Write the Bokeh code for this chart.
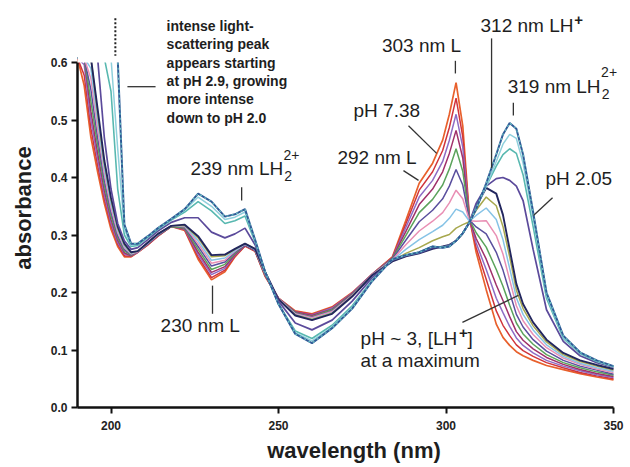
import numpy as np
from bokeh.plotting import figure
from bokeh.models import Range1d, BoxAnnotation, Label, FixedTicker, PrintfTickFormatter
from bokeh.embed import file_html
from bokeh.resources import INLINE

# wavelength grid (nm)
wavelength = [190, 192, 194, 196, 198, 200, 202, 204, 206, 208,
              211, 214, 218, 222, 226, 230, 234, 237, 240, 243,
              246, 250, 255, 260, 266, 272, 278, 284, 288, 292,
              296, 299, 301, 303, 305, 307, 309, 312, 315, 317,
              319, 321, 323, 326, 330, 335, 340, 345, 350]

# spectra, from pH 7.38 (L) down to pH 2.05 (LH2 2+)
abs_01 = [0.66, 0.56, 0.47, 0.41, 0.355, 0.31, 0.28, 0.262, 0.262, 0.27,
          0.283, 0.298, 0.315, 0.308, 0.258, 0.222, 0.236, 0.262, 0.281, 0.272,
          0.228, 0.19, 0.168, 0.163, 0.175, 0.2, 0.232, 0.262, 0.325, 0.39,
          0.425, 0.465, 0.51, 0.565, 0.49, 0.33, 0.27, 0.205, 0.145, 0.122,
          0.108, 0.097, 0.09, 0.082, 0.073, 0.066, 0.059, 0.053, 0.048]
abs_02 = [0.68, 0.578, 0.485, 0.421, 0.363, 0.316, 0.284, 0.264, 0.263, 0.27,
          0.283, 0.298, 0.315, 0.309, 0.262, 0.226, 0.239, 0.263, 0.281, 0.272,
          0.229, 0.19, 0.167, 0.162, 0.174, 0.199, 0.232, 0.261, 0.319, 0.378,
          0.41, 0.447, 0.487, 0.538, 0.471, 0.329, 0.278, 0.223, 0.168, 0.143,
          0.125, 0.109, 0.099, 0.089, 0.078, 0.069, 0.061, 0.055, 0.05]
abs_03 = [0.70, 0.596, 0.50, 0.432, 0.37, 0.321, 0.287, 0.267, 0.264, 0.27,
          0.284, 0.299, 0.315, 0.31, 0.266, 0.231, 0.242, 0.265, 0.282, 0.273,
          0.23, 0.19, 0.166, 0.161, 0.173, 0.199, 0.232, 0.26, 0.313, 0.366,
          0.395, 0.428, 0.465, 0.51, 0.453, 0.328, 0.286, 0.24, 0.19, 0.165,
          0.141, 0.121, 0.108, 0.095, 0.082, 0.072, 0.064, 0.057, 0.052]
abs_04 = [0.72, 0.614, 0.515, 0.443, 0.378, 0.327, 0.291, 0.269, 0.264, 0.271,
          0.284, 0.299, 0.315, 0.311, 0.27, 0.235, 0.245, 0.266, 0.282, 0.273,
          0.23, 0.189, 0.166, 0.16, 0.171, 0.198, 0.231, 0.26, 0.306, 0.353,
          0.38, 0.41, 0.442, 0.482, 0.434, 0.327, 0.294, 0.258, 0.213, 0.186,
          0.158, 0.132, 0.117, 0.102, 0.087, 0.075, 0.066, 0.059, 0.054]
abs_05 = [0.744, 0.636, 0.533, 0.456, 0.387, 0.333, 0.295, 0.272, 0.265, 0.271,
          0.285, 0.3, 0.315, 0.312, 0.275, 0.24, 0.249, 0.268, 0.283, 0.274,
          0.231, 0.189, 0.165, 0.158, 0.17, 0.197, 0.231, 0.259, 0.299, 0.339,
          0.362, 0.387, 0.415, 0.45, 0.411, 0.327, 0.304, 0.279, 0.24, 0.211,
          0.178, 0.147, 0.128, 0.11, 0.092, 0.078, 0.069, 0.062, 0.056]
abs_06 = [0.77, 0.659, 0.553, 0.47, 0.396, 0.34, 0.299, 0.275, 0.266, 0.271,
          0.285, 0.3, 0.316, 0.314, 0.28, 0.246, 0.253, 0.27, 0.283, 0.274,
          0.232, 0.189, 0.164, 0.157, 0.168, 0.196, 0.231, 0.258, 0.291, 0.323,
          0.343, 0.363, 0.385, 0.414, 0.387, 0.326, 0.314, 0.302, 0.27, 0.239,
          0.2, 0.162, 0.14, 0.118, 0.098, 0.082, 0.072, 0.065, 0.058]
abs_07 = [0.796, 0.682, 0.572, 0.485, 0.406, 0.347, 0.304, 0.278, 0.267, 0.271,
          0.286, 0.301, 0.316, 0.315, 0.285, 0.251, 0.256, 0.272, 0.284, 0.275,
          0.233, 0.189, 0.163, 0.156, 0.167, 0.195, 0.231, 0.257, 0.283, 0.307,
          0.324, 0.339, 0.356, 0.378, 0.363, 0.325, 0.324, 0.325, 0.299, 0.267,
          0.222, 0.177, 0.151, 0.127, 0.104, 0.086, 0.075, 0.067, 0.061]
abs_08 = [0.82, 0.704, 0.59, 0.498, 0.415, 0.354, 0.308, 0.28, 0.268, 0.272,
          0.286, 0.301, 0.316, 0.316, 0.29, 0.256, 0.26, 0.273, 0.284, 0.275,
          0.234, 0.188, 0.162, 0.154, 0.165, 0.194, 0.23, 0.256, 0.275, 0.292,
          0.306, 0.317, 0.329, 0.345, 0.34, 0.324, 0.334, 0.347, 0.327, 0.292,
          0.242, 0.191, 0.162, 0.135, 0.109, 0.089, 0.077, 0.069, 0.063]
abs_09 = [0.844, 0.726, 0.608, 0.511, 0.424, 0.361, 0.312, 0.283, 0.269, 0.272,
          0.287, 0.302, 0.316, 0.317, 0.295, 0.262, 0.264, 0.275, 0.285, 0.276,
          0.235, 0.188, 0.161, 0.153, 0.164, 0.194, 0.23, 0.255, 0.268, 0.278,
          0.29, 0.297, 0.301, 0.312, 0.318, 0.323, 0.343, 0.366, 0.351, 0.315,
          0.262, 0.204, 0.172, 0.142, 0.114, 0.092, 0.08, 0.072, 0.065]
abs_10 = [0.86, 0.74, 0.62, 0.52, 0.43, 0.365, 0.315, 0.285, 0.27, 0.272,
          0.287, 0.302, 0.316, 0.318, 0.298, 0.265, 0.266, 0.276, 0.285, 0.276,
          0.236, 0.188, 0.16, 0.152, 0.163, 0.193, 0.23, 0.254, 0.263, 0.268,
          0.276, 0.28, 0.283, 0.29, 0.303, 0.322, 0.35, 0.382, 0.372, 0.335,
          0.275, 0.215, 0.18, 0.148, 0.118, 0.095, 0.082, 0.074, 0.067]
abs_11 = [0.95, 0.85, 0.74, 0.61, 0.47, 0.38, 0.32, 0.29, 0.275, 0.278,
          0.292, 0.307, 0.322, 0.33, 0.33, 0.305, 0.295, 0.302, 0.312, 0.283,
          0.236, 0.185, 0.147, 0.135, 0.152, 0.185, 0.226, 0.256, 0.264, 0.269,
          0.278, 0.279, 0.282, 0.29, 0.303, 0.322, 0.355, 0.385, 0.398, 0.40,
          0.395, 0.385, 0.36, 0.275, 0.17, 0.115, 0.09, 0.078, 0.07]
abs_12 = [1.1, 1.0, 0.9, 0.8, 0.68, 0.55, 0.38, 0.3, 0.28, 0.282,
          0.296, 0.31, 0.326, 0.34, 0.358, 0.342, 0.32, 0.325, 0.333, 0.288,
          0.236, 0.18, 0.133, 0.12, 0.143, 0.177, 0.222, 0.257, 0.265, 0.27,
          0.28, 0.279, 0.281, 0.29, 0.303, 0.322, 0.348, 0.385, 0.42, 0.44,
          0.45, 0.442, 0.405, 0.315, 0.19, 0.12, 0.094, 0.08, 0.071]
abs_13 = [1.2, 1.1, 1.0, 0.9, 0.8, 0.68, 0.45, 0.31, 0.282, 0.284,
          0.297, 0.311, 0.327, 0.343, 0.366, 0.35, 0.327, 0.331, 0.34, 0.29,
          0.236, 0.179, 0.13, 0.116, 0.14, 0.174, 0.221, 0.258, 0.265, 0.27,
          0.28, 0.278, 0.28, 0.29, 0.303, 0.322, 0.346, 0.385, 0.428, 0.458,
          0.475, 0.468, 0.425, 0.33, 0.195, 0.122, 0.095, 0.081, 0.071]
abs_14 = [1.3, 1.2, 1.1, 1.0, 0.92, 0.8, 0.62, 0.318, 0.285, 0.285,
          0.298, 0.312, 0.328, 0.345, 0.372, 0.358, 0.332, 0.336, 0.345, 0.292,
          0.236, 0.18, 0.128, 0.112, 0.138, 0.172, 0.22, 0.258, 0.265, 0.27,
          0.28, 0.278, 0.28, 0.29, 0.303, 0.322, 0.345, 0.39, 0.44, 0.475,
          0.495, 0.485, 0.44, 0.34, 0.2, 0.125, 0.096, 0.082, 0.072]

spectra = [abs_01, abs_02, abs_03, abs_04, abs_05, abs_06, abs_07,
           abs_08, abs_09, abs_10, abs_11, abs_12, abs_13, abs_14]
colors = ["#e8602c", "#d0343c", "#8e6cc4", "#a0306a", "#5ba35b", "#5a4f9e",
          "#e98fb4", "#86c3e6", "#a7a84e", "#22265e", "#5b4a9b", "#58b8b0",
          "#8fd0dc", "#2e5a96"]
widths = [1.7, 1.5, 1.5, 1.5, 1.5, 1.5, 1.5, 1.5, 1.5, 1.9, 1.7, 1.6, 1.5, 2.0]

y_ticks = [0.0, 0.1, 0.2, 0.3, 0.4, 0.5, 0.6]
x_ticks = [200, 250, 300, 350]
y_axis_top = 0.6

FONT = "Liberation Sans"
TXT = "#1e1e1e"

p = figure(width=630, height=467, x_range=Range1d(190, 355.07), y_range=Range1d(0, 0.694),
           output_backend="svg", toolbar_location=None,
           min_border_left=77, min_border_right=0, min_border_top=8, min_border_bottom=60)
p.outline_line_color = None
p.xgrid.grid_line_color = None
p.ygrid.grid_line_color = None

# curves are cut at the top of the axis, as in the original
for s, c, w in zip(spectra, colors, widths):
    p.line(wavelength, np.minimum(s, y_axis_top + 0.008), line_color=c, line_width=w)
p.line(wavelength, np.minimum(abs_14, y_axis_top + 0.008), line_color="#6cc4c4",
       line_width=1.2, line_dash="2 3")

p.add_layout(BoxAnnotation(bottom=y_axis_top, fill_color="white", fill_alpha=1.0,
                           line_color=None, level="annotation"))

for ax in (p.xaxis, p.yaxis):
    ax.axis_line_width = 2.5
    ax.axis_line_color = "#111111"
    ax.major_tick_line_width = 2
    ax.major_tick_line_color = "#111111"
    ax.major_tick_in = 0
    ax.major_tick_out = 6
    ax.minor_tick_line_color = None
    ax.major_label_text_font = FONT
    ax.major_label_text_font_style = "bold"
    ax.major_label_text_font_size = "12px"
    ax.major_label_text_color = "#222222"
    ax.axis_label_text_font = FONT
    ax.axis_label_text_font_style = "bold"
    ax.axis_label_text_font_size = "22px"
    ax.axis_label_text_color = "#1e1e1e"

p.xaxis.ticker = FixedTicker(ticks=x_ticks)
p.yaxis.ticker = FixedTicker(ticks=y_ticks)
p.yaxis.formatter = PrintfTickFormatter(format="%.1f")
p.yaxis.bounds = (0, y_axis_top)
p.xaxis.bounds = (190, 350)
p.xaxis.major_label_standoff = 7
p.yaxis.major_label_standoff = 4
p.xaxis.axis_label = "wavelength (nm)"
p.yaxis.axis_label = "absorbance"
p.xaxis.axis_label_standoff = 5
p.yaxis.axis_label_standoff = 12

# leader lines
p.segment(x0=[302.8, 313.6, 320.1, 288.8, 287.3, 331.8, 239.0, 230.3, 304.9, 204.9],
          y0=[0.603, 0.642, 0.530, 0.490, 0.412, 0.365, 0.383, 0.212, 0.148, 0.558],
          x1=[302.8, 313.6, 320.1, 297.2, 291.8, 326.1, 239.0, 230.3, 321.6, 213.3],
          y1=[0.581, 0.416, 0.508, 0.442, 0.395, 0.334, 0.360, 0.163, 0.195, 0.558],
          line_color="#333333", line_width=1.3, level="overlay")
p.segment(x0=[201.3], y0=[0.677], x1=[201.3], y1=[0.612],
          line_color="#222222", line_width=2, line_dash="2 2", level="overlay")


def lab(x, y, text, size="19px", style="normal", align="left"):
    p.add_layout(Label(x=x, y=y, text=text, text_font=FONT, text_font_size=size,
                       text_font_style=style, text_color=TXT, text_align=align,
                       text_baseline="middle", level="overlay"))


lab(292.7, 0.630, "303 nm L", align="center")
lab(310.3, 0.664, "312 nm LH")
lab(338.3, 0.674, "+", size="15px", style="bold")
lab(318.4, 0.558, "319 nm LH")
lab(346.3, 0.583, "2+", size="14px")
lab(346.5, 0.545, "2", size="14px")
lab(272.4, 0.517, "pH 7.38")
lab(267.6, 0.435, "292 nm L")
lab(329.7, 0.398, "pH 2.05")
lab(223.7, 0.416, "239 nm LH")
lab(251.5, 0.440, "2+", size="14px")
lab(251.7, 0.403, "2", size="14px")
lab(214.8, 0.143, "230 nm L")
lab(274.5, 0.120, "pH ~ 3, [LH")
lab(303.9, 0.130, "+", size="15px", style="bold")
lab(306.4, 0.120, "]")
lab(274.5, 0.082, "at a maximum")

block = ["intense  light-", "scattering peak", "appears starting",
         "at pH 2.9, growing", "more intense", "down to pH 2.0"]
for i, t in enumerate(block):
    lab(216.6, 0.664 - 0.032 * i, t, size="14px", style="bold")

open("out.html", "w").write(file_html(p, INLINE))
